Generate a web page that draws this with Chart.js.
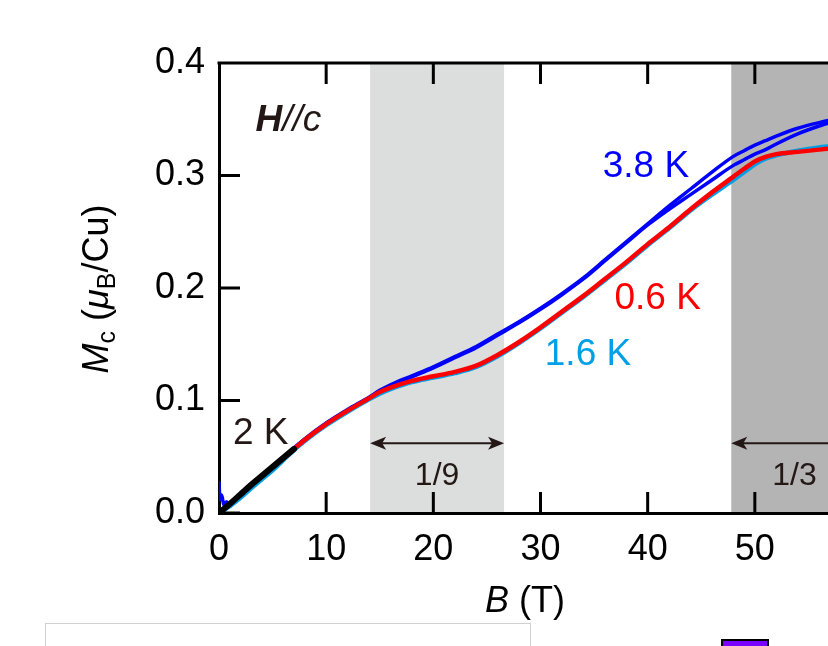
<!DOCTYPE html>
<html>
<head>
<meta charset="utf-8">
<script src="https://cdn.jsdelivr.net/npm/chart.js@4.4.1/dist/chart.umd.min.js"></script>
<style>
  html, body { margin: 0; padding: 0; background: #fff; overflow: hidden; width: 828px; height: 646px; }
  #wrap { position: relative; width: 840px; height: 646px; }
</style>
</head>
<body>
<div id="wrap"><canvas id="c" width="840" height="646"></canvas></div>
<script>
// field values (T)
const fieldLow = [0, 1, 2, 3, 4, 5, 6, 7];
const fieldMain = [7, 8, 10, 12, 14, 15, 16, 18, 20, 22, 24, 26, 28, 30, 32, 34, 36, 38, 40, 42, 44, 46, 48, 49, 50, 51, 52, 54, 56, 58];
const fieldBlueLow = [0, 0.1, 0.25, 0.45, 0.7, 1.0, 1.4, 2, 3, 4, 5, 6];

// magnetization M_c (muB/Cu)
const m2K = [0, 0.008, 0.0165, 0.025, 0.033, 0.041, 0.049, 0.057];
const m06KLow = [0, 0.008, 0.0165, 0.025, 0.033, 0.041, 0.049];
const m06K = [0.057, 0.065, 0.079, 0.091, 0.102, 0.1075, 0.1115, 0.1175, 0.1215, 0.1255, 0.131, 0.1405, 0.152, 0.165, 0.179, 0.193, 0.208, 0.223, 0.239, 0.254, 0.270, 0.285, 0.299, 0.306, 0.3125, 0.3165, 0.319, 0.321, 0.323, 0.325];
const m16KLow = [0, 0.006, 0.0135, 0.022, 0.030, 0.038, 0.047];
const m16K = [0.056, 0.064, 0.078, 0.090, 0.101, 0.106, 0.110, 0.1163, 0.1203, 0.1243, 0.1298, 0.1393, 0.151, 0.164, 0.178, 0.192, 0.207, 0.222, 0.238, 0.253, 0.269, 0.283, 0.296, 0.303, 0.310, 0.315, 0.318, 0.322, 0.325, 0.327];
const m38KLow = [0.027, 0.012, 0.016, 0.007, 0.010, 0.006, 0.010, 0.015, 0.024, 0.032, 0.040, 0.049];
const m38KUp = [0.058, 0.066, 0.080, 0.092, 0.103, 0.109, 0.114, 0.122, 0.130, 0.139, 0.148, 0.159, 0.170, 0.182, 0.195, 0.209, 0.225, 0.241, 0.257, 0.273, 0.288, 0.303, 0.317, 0.322, 0.327, 0.331, 0.335, 0.342, 0.347, 0.351];
const m38KDown = [0.057, 0.065, 0.079, 0.091, 0.102, 0.108, 0.113, 0.121, 0.129, 0.138, 0.147, 0.158, 0.169, 0.181, 0.194, 0.208, 0.224, 0.240, 0.256, 0.270, 0.283, 0.296, 0.309, 0.314, 0.319, 0.323, 0.328, 0.337, 0.344, 0.350];

// plateau regions
const plateauStart = [14.1, 47.8];
const plateauEnd = [26.6, 59.6];
const plateauLabels = ['1/9', '1/3'];
const plateauColors = ['#dcdddd', '#b4b4b4'];

const xTicks = [0, 10, 20, 30, 40, 50];
const yTicks = [0, 0.1, 0.2, 0.3, 0.4];

const FONT = "'Liberation Sans', Arial, Helvetica, sans-serif";
const DARK = '#231815';

function pts(xs, ys) {
  return ys.map((y, i) => ({ x: xs[i], y: y }));
}

function richText(ctx, parts, x, y, align) {
  let w = 0;
  parts.forEach(p => { ctx.font = p[1]; w += ctx.measureText(p[0]).width; });
  let cx = align === 'center' ? x - w / 2 : x;
  ctx.textAlign = 'left';
  parts.forEach(p => {
    ctx.font = p[1];
    ctx.fillText(p[0], cx, y + (p[2] || 0));
    cx += ctx.measureText(p[0]).width;
  });
}

const decor = {
  id: 'decor',
  beforeDraw(chart) {
    const { ctx, chartArea: a, scales: { x } } = chart;
    ctx.save();
    plateauStart.forEach((s, i) => {
      const x0 = x.getPixelForValue(s), x1 = x.getPixelForValue(plateauEnd[i]);
      ctx.fillStyle = plateauColors[i];
      ctx.fillRect(x0, a.top, x1 - x0, a.bottom - a.top);
    });
    ctx.restore();
  },
  afterDatasetsDraw(chart) {
    const { ctx, chartArea: a, scales: { x, y } } = chart;
    ctx.save();
    // top frame + inward ticks
    ctx.strokeStyle = '#000';
    ctx.lineWidth = 3;
    ctx.beginPath();
    ctx.moveTo(a.left - 1.5, a.top);
    ctx.lineTo(a.right + 2, a.top);
    xTicks.forEach(v => {
      const px = x.getPixelForValue(v);
      if (v === 0) return;
      ctx.moveTo(px, a.bottom); ctx.lineTo(px, a.bottom - 21);
      ctx.moveTo(px, a.top); ctx.lineTo(px, a.top + 21);
    });
    yTicks.forEach(v => {
      const py = y.getPixelForValue(v);
      ctx.moveTo(a.left, py); ctx.lineTo(a.left + 21, py);
    });
    ctx.stroke();

    // plateau arrows
    const ay = y.getPixelForValue(0.062);
    ctx.strokeStyle = DARK;
    ctx.fillStyle = DARK;
    ctx.lineWidth = 2;
    plateauStart.forEach((s, i) => {
      const x0 = x.getPixelForValue(s), x1 = x.getPixelForValue(plateauEnd[i]);
      ctx.beginPath();
      ctx.moveTo(x0 + 6, ay); ctx.lineTo(x1 - 6, ay);
      ctx.stroke();
      [[x0, 1], [x1, -1]].forEach(([tip, dir]) => {
        ctx.beginPath();
        ctx.moveTo(tip, ay);
        ctx.lineTo(tip + dir * 16, ay - 6.5);
        ctx.lineTo(tip + dir * 12, ay);
        ctx.lineTo(tip + dir * 16, ay + 6.5);
        ctx.closePath();
        ctx.fill();
      });
      ctx.font = '32px ' + FONT;
      ctx.textAlign = 'center';
      ctx.textBaseline = 'alphabetic';
      ctx.fillText(plateauLabels[i], (x0 + x1) / 2, ay + 42);
    });

    // curve labels
    ctx.textBaseline = 'alphabetic';
    ctx.textAlign = 'left';
    ctx.font = '37px ' + FONT;
    ctx.fillStyle = '#0000ff';
    ctx.fillText('3.8 K', x.getPixelForValue(35.8), y.getPixelForValue(0.299));
    ctx.fillStyle = '#ff0000';
    ctx.fillText('0.6 K', x.getPixelForValue(36.9), y.getPixelForValue(0.181));
    ctx.fillStyle = '#00a0e9';
    ctx.fillText('1.6 K', x.getPixelForValue(30.4), y.getPixelForValue(0.132));
    ctx.fillStyle = DARK;
    ctx.fillText('2 K', x.getPixelForValue(1.3), y.getPixelForValue(0.061));
    richText(ctx, [['H', 'italic bold 37px ' + FONT], ['//c', 'italic 37px ' + FONT]],
      x.getPixelForValue(3.4), y.getPixelForValue(0.340), 'left');
    ctx.restore();
  },
  afterDraw(chart) {
    const { ctx } = chart;
    ctx.save();
    ctx.fillStyle = '#000';
    ctx.textBaseline = 'alphabetic';
    // x title
    richText(ctx, [['B', 'italic 36px ' + FONT], [' (T)', '36px ' + FONT]], 525, 612, 'center');
    // y title
    ctx.translate(108, 289);
    ctx.rotate(-Math.PI / 2);
    richText(ctx, [
      ['M', 'italic 36px ' + FONT],
      ['c', '25px ' + FONT, 7],
      [' (', '36px ' + FONT],
      ['\u03bc', 'italic 36px ' + FONT],
      ['B', '25px ' + FONT, 7],
      ['/Cu)', '36px ' + FONT]
    ], 0, 0, 'center');
    ctx.restore();

    // fragments of neighbouring panels at the bottom edge
    ctx.save();
    ctx.fillStyle = '#fff';
    ctx.strokeStyle = '#d0d0d0';
    ctx.lineWidth = 1;
    ctx.fillRect(45, 623, 485, 30);
    ctx.strokeRect(45.5, 623.5, 485, 30);
    ctx.fillStyle = '#7a00ff';
    ctx.strokeStyle = '#000';
    ctx.lineWidth = 2;
    ctx.fillRect(722, 640, 46, 12);
    ctx.strokeRect(722, 640, 46, 12);
    ctx.restore();
  }
};

const ctx = document.getElementById('c').getContext('2d');
new Chart(ctx, {
  type: 'line',
  data: {
    datasets: [
      { label: '2 K', data: pts(fieldLow, m2K), borderColor: '#000', borderWidth: 6 },
      { label: '0.6 K', data: pts(fieldLow, m06KLow).concat(pts(fieldMain, m06K)), borderColor: '#ff0000', borderWidth: 4.5 },
      { label: '1.6 K', data: pts(fieldLow, m16KLow).concat(pts(fieldMain, m16K)), borderColor: '#00a0e9', borderWidth: 4.5 },
      { label: '3.8 K up', data: pts(fieldBlueLow, m38KLow).concat(pts(fieldMain, m38KUp)), borderColor: '#0000ff', borderWidth: 3.5 },
      { label: '3.8 K down', data: pts(fieldMain, m38KDown), borderColor: '#0000ff', borderWidth: 3.5 }
    ]
  },
  options: {
    responsive: false,
    animation: false,
    devicePixelRatio: 1,
    elements: {
      point: { radius: 0 },
      line: { fill: false, cubicInterpolationMode: 'monotone', borderCapStyle: 'round', borderJoinStyle: 'round' }
    },
    layout: { padding: { top: 63, right: 8, left: 0, bottom: 0 } },
    plugins: { legend: { display: false }, tooltip: { enabled: false } },
    scales: {
      x: {
        type: 'linear', min: 0, max: 57.2,
        grid: { display: false, drawTicks: false },
        border: { display: true, color: '#000', width: 3 },
        ticks: { color: '#000', font: { family: FONT, size: 36 }, padding: 15, maxRotation: 0 },
        afterBuildTicks: s => { s.ticks = xTicks.map(v => ({ value: v })); },
        afterFit: s => { s.height = 133; }
      },
      y: {
        type: 'linear', min: 0, max: 0.4,
        grid: { display: false, drawTicks: false },
        border: { display: true, color: '#000', width: 3 },
        ticks: { color: '#000', font: { family: FONT, size: 36 }, padding: 14, callback: v => v.toFixed(1) },
        afterBuildTicks: s => { s.ticks = yTicks.map(v => ({ value: v })); },
        afterFit: s => { s.width = 219; }
      }
    }
  },
  plugins: [decor]
});
</script>
</body>
</html>
